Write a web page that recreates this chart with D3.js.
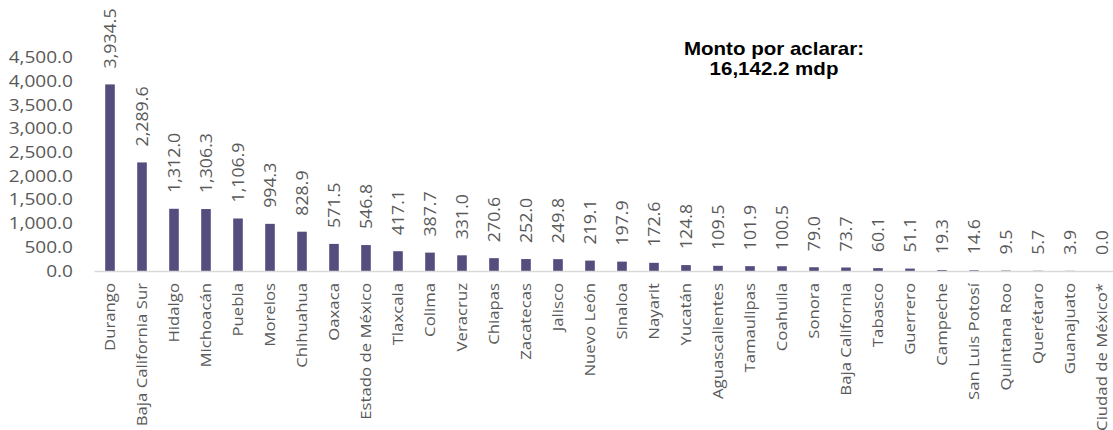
<!DOCTYPE html>
<html>
<head>
<meta charset="utf-8">
<script src="https://cdn.jsdelivr.net/npm/d3@7"></script>
<style>
  html, body { margin: 0; padding: 0; background: #fff; }
  svg { display: block; }
  text { font-family: "Open Sans", sans-serif; fill: #595959; }
  .title text { font-family: "Liberation Sans", Arial, sans-serif; font-weight: bold; fill: #000; }
</style>
</head>
<body>
<svg id="chart" width="1113" height="430"></svg>
<script>
// Amounts pending clarification by state (millions of pesos)
const states = [
  "Durango", "Baja California Sur", "Hidalgo", "Michoacán", "Puebla", "Morelos",
  "Chihuahua", "Oaxaca", "Estado de México", "Tlaxcala", "Colima", "Veracruz",
  "Chiapas", "Zacatecas", "Jalisco", "Nuevo León", "Sinaloa", "Nayarit",
  "Yucatán", "Aguascalientes", "Tamaulipas", "Coahuila", "Sonora",
  "Baja California", "Tabasco", "Guerrero", "Campeche", "San Luis Potosí",
  "Quintana Roo", "Querétaro", "Guanajuato", "Ciudad de México*"
];
const amounts = [
  3934.5, 2289.6, 1312.0, 1306.3, 1106.9, 994.3,
  828.9, 571.5, 546.8, 417.1, 387.7, 331.0,
  270.6, 252.0, 249.8, 219.1, 197.9, 172.6,
  124.8, 109.5, 101.9, 100.5, 79.0,
  73.7, 60.1, 51.1, 19.3, 14.6,
  9.5, 5.7, 3.9, 0.0
];
const yTicks = [0, 500, 1000, 1500, 2000, 2500, 3000, 3500, 4000, 4500];
const titleLines = ["Monto por aclarar:", "16,142.2 mdp"];

const svg = d3.select("#chart");
const fmt = d3.format(",.1f");

const x = d3.scaleBand()
  .domain(states)
  .range([94, 1118])
  .paddingInner(0.7)
  .paddingOuter(0.35);

const y = d3.scaleLinear()
  .domain([0, 4500])
  .range([271, 57.6]);

// Y axis labels (no axis line)
const yAxis = svg.append("g")
  .attr("transform", "translate(73,0)")
  .call(d3.axisLeft(y).tickValues(yTicks).tickFormat(fmt).tickSize(0).tickPadding(0));
yAxis.select(".domain").remove();
yAxis.selectAll("text")
  .attr("x", 0)
  .attr("text-anchor", "end")
  .style("font-family", "'Open Sans', sans-serif")
  .style("font-size", "16px")
  .attr("fill", "#595959")
  .attr("transform", "scale(1.19,1)");

// Bars
svg.append("g")
  .selectAll("rect")
  .data(amounts)
  .join("rect")
  .attr("x", (d, i) => x(states[i]))
  .attr("width", x.bandwidth())
  .attr("y", d => y(d))
  .attr("height", d => y(0) - y(d))
  .attr("fill", "#564c7e");

// Category axis baseline
const xAxis = svg.append("g")
  .attr("transform", `translate(0,${y(0)})`)
  .call(d3.axisBottom(x).tickSize(0).tickFormat(""));
xAxis.select(".domain").attr("stroke", "#d9d9d9").attr("stroke-width", 1.5);
xAxis.selectAll(".tick").remove();

// Category labels, rotated
svg.append("g")
  .selectAll("text")
  .data(states)
  .join("text")
  .attr("transform", d => `translate(${x(d) + x.bandwidth() / 2},283) rotate(-90) scale(1.155,1)`)
  .attr("text-anchor", "end")
  .attr("dy", "0.35em")
  .style("font-size", "14.5px")
  .text(d => d);

// Value labels above bars, rotated
svg.append("g")
  .selectAll("text")
  .data(amounts)
  .join("text")
  .attr("transform", (d, i) => `translate(${x(states[i]) + x.bandwidth() / 2},${y(d) - 16}) rotate(-90) scale(1.11,1)`)
  .attr("text-anchor", "start")
  .attr("dy", "0.35em")
  .style("font-size", "16px")
  .text(d => fmt(d));

// Total annotation
const title = svg.append("g").attr("class", "title");
title.selectAll("text")
  .data(titleLines)
  .join("text")
  .attr("transform", (d, i) => `translate(774,${55 + i * 20}) scale(1.14,1)`)
  .attr("text-anchor", "middle")
  .style("font-size", "18px")
  .text(d => d);
</script>
</body>
</html>
